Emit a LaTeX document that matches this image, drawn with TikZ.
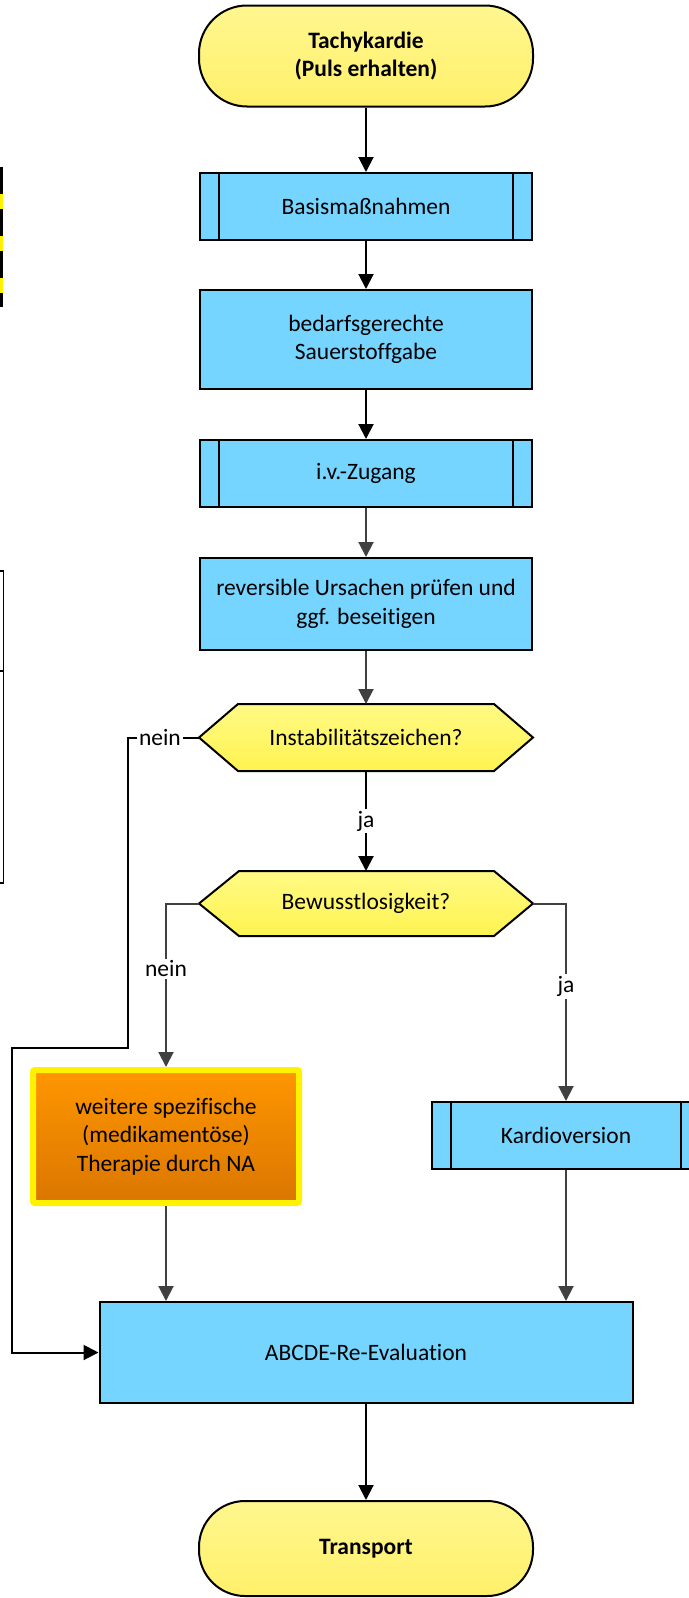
\documentclass[tikz,border=0pt]{standalone}
\usepackage{fontspec}
\setmainfont{Carlito}[Ligatures={NoCommon}]
\usetikzlibrary{arrows.meta}
\definecolor{boxblue}{HTML}{75D5FF}
\definecolor{termtop}{HTML}{FFF78F}
\definecolor{termbot}{HTML}{FFF06A}
\definecolor{hextop}{HTML}{FFFA85}
\definecolor{hexbot}{HTML}{FFF350}
\definecolor{orgtop}{HTML}{FF9600}
\definecolor{orgbot}{HTML}{DA7600}
\definecolor{lnk}{HTML}{404040}
\tikzset{
  txt/.style={font=\fontsize{23.5}{28.5}\selectfont, align=center, text=black},
  term/.style={txt, draw=black, line width=2pt, rounded corners=48pt, top color=termtop, bottom color=termbot, minimum width=334, font=\fontsize{23.5}{28.5}\selectfont\bfseries},
  proc/.style={txt, draw=black, line width=2pt, fill=boxblue, minimum width=332},
  hextext/.style={txt, inner sep=0pt},
  arr/.style={line width=2pt, -{Triangle[length=15pt,width=15pt]}},
  garr/.style={arr, draw=lnk, -{Triangle[length=15pt,width=15pt,fill=lnk]}},
  lbl/.style={txt, fill=white, inner sep=2pt},
  hexshape/.style={draw=black, line width=2pt, top color=hextop, bottom color=hexbot}
}
\begin{document}
\begin{tikzpicture}[x=1pt,y=-1pt]
\useasboundingbox (0,0) rectangle (688,1598);
% left edge fragments
\draw[yellow, line width=3.5pt] (1.5,167) -- (1.5,307);
\draw[black, line width=3.5pt, dash pattern=on 27pt off 15pt] (1.5,167) -- (1.5,307);
\draw[black, line width=1.5pt] (-60,571) rectangle (3.5,883);
\draw[black, line width=1.5pt] (-60,671) -- (3.5,671);

% nodes
\node[term, minimum height=101] (start) at (366,56) {Tachykardie\\(Puls erhalten)};
\node[proc, minimum height=67] (basis) at (366,206.5) {Basismaßnahmen};
\draw[line width=2pt] ([xshift=20]basis.north west) -- ([xshift=20]basis.south west);
\draw[line width=2pt] ([xshift=-20]basis.north east) -- ([xshift=-20]basis.south east);
\node[proc, minimum height=99] (bedarf) at (366,339.5) {bedarfsgerechte\\Sauerstoffgabe};
\node[proc, minimum height=67] (iv) at (366,473.5) {i.v.-Zugang};
\draw[line width=2pt] ([xshift=20]iv.north west) -- ([xshift=20]iv.south west);
\draw[line width=2pt] ([xshift=-20]iv.north east) -- ([xshift=-20]iv.south east);
\node[proc, minimum height=92] (rev) at (366,604) {reversible Ursachen prüfen und\\ggf. beseitigen};

% hexagon 1
\path[hexshape] (199,737.5) -- (238,704) -- (494,704) -- (533,737.5) -- (494,771) -- (238,771) -- cycle;
\node[hextext] (instab) at (366,737.5) {Instabilitätszeichen?};
\coordinate (instabN) at (366,704);
\coordinate (instabS) at (366,771);
\coordinate (instabW) at (199,737.5);

% hexagon 2
\path[hexshape] (199,903.5) -- (239,871) -- (494,871) -- (533,903.5) -- (494,936) -- (239,936) -- cycle;
\node[hextext] (bew) at (366,903.5) {Bewusstlosigkeit?};
\coordinate (bewN) at (366,871);
\coordinate (bewW) at (199,903.5);
\coordinate (bewE) at (533,903.5);

\node[txt, draw=yellow, line width=6pt, rounded corners=2pt, top color=orgtop, bottom color=orgbot, minimum width=266, minimum height=133] (ther) at (166,1136.5) {weitere spezifische\\(medikamentöse)\\Therapie durch NA};
\node[proc, minimum width=268, minimum height=67] (kardio) at (566,1135.5) {Kardioversion};
\draw[line width=2pt] ([xshift=20]kardio.north west) -- ([xshift=20]kardio.south west);
\draw[line width=2pt] ([xshift=-20]kardio.north east) -- ([xshift=-20]kardio.south east);
\node[proc, minimum width=533, minimum height=101] (abc) at (366,1352.5) {ABCDE-Re-Evaluation};
\node[term, minimum height=95, rounded corners=46pt] (trans) at (366,1548.5) {Transport};

% connectors
\draw[arr] (start) -- (basis);
\draw[arr] (basis) -- (bedarf);
\draw[arr] (bedarf) -- (iv);
\draw[garr] (iv) -- (rev);
\draw[garr] (rev) -- (instabN);
\draw[arr] (instabS) -- node[lbl] {ja} (bewN);
\coordinate (l1) at (128,1048);
\coordinate (l2) at (12,1048);
\draw[arr] (instabW) -- node[lbl, pos=0.55] {nein} (instabW -| l1) -- (l1) -- (l2) -- (l2 |- abc.west) -- (abc.west);
\coordinate (nb) at (166,903.5);
\draw[garr] (bewW) -- (nb) -- node[lbl, pos=0.4] {nein} (ther.north);
\coordinate (jb) at (566,903.5);
\draw[garr] (bewE) -- (jb) -- node[lbl, pos=0.42] {ja} (kardio.north);
\draw[garr] (ther.south) -- (ther.south |- abc.north);
\draw[garr] (kardio.south) -- (kardio.south |- abc.north);
\draw[arr] (abc) -- (trans);
\end{tikzpicture}
\end{document}
